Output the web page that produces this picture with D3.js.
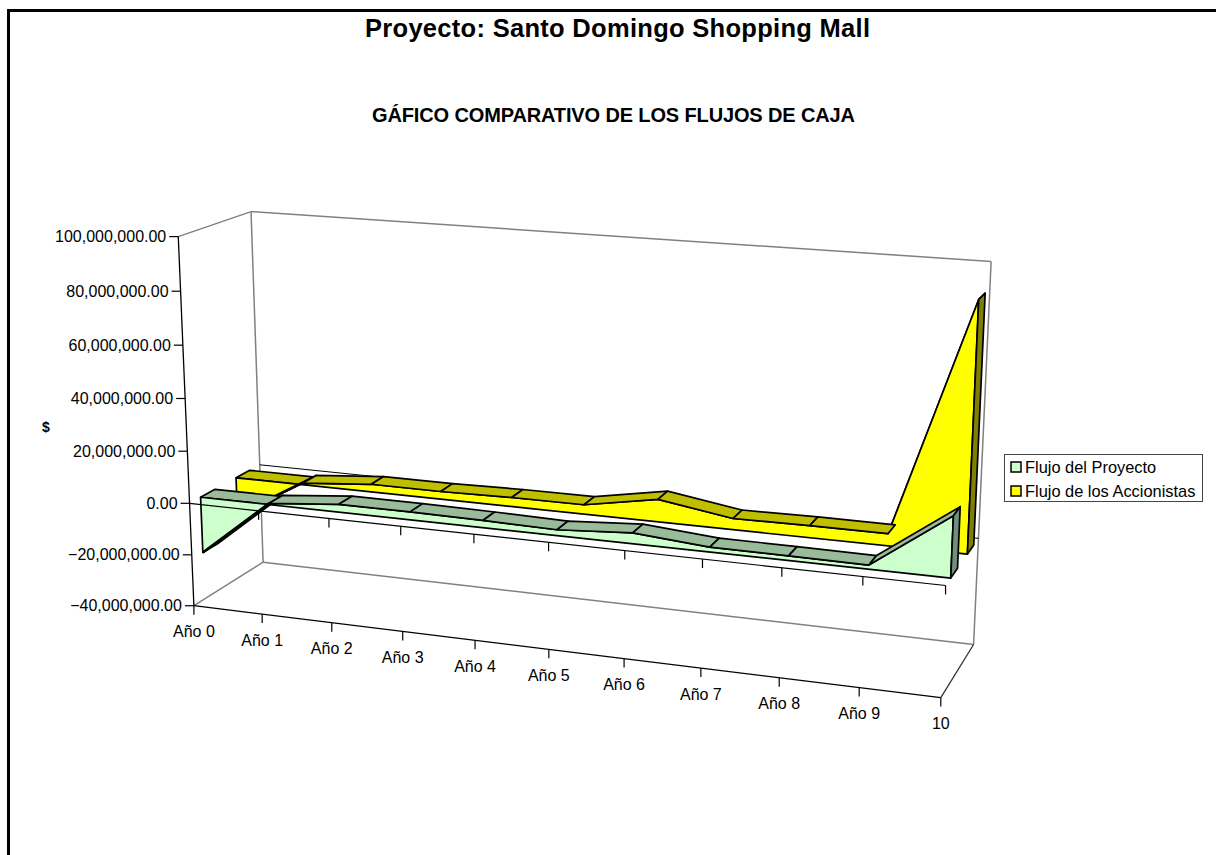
<!DOCTYPE html>
<html><head><meta charset="utf-8">
<script src="https://cdn.jsdelivr.net/npm/d3@7"></script>
<style>html,body{margin:0;padding:0;background:#fff;overflow:hidden}svg{display:block}
text{font-family:"Liberation Sans",Arial,sans-serif;fill:#000}</style></head>
<body><svg id="c" width="1216" height="855"></svg>
<script>
const categories = ["Año 0","Año 1","Año 2","Año 3","Año 4","Año 5","Año 6","Año 7","Año 8","Año 9","10"];
const seriesNames = ["Flujo del Proyecto","Flujo de los Accionistas"];
const proyectoValues = [-21.6e6,0.5e6,3e6,3e6,2.7e6,2.2e6,4e6,1.8e6,1.7e6,1.5e6,22e6];
const accionistasValues = [-15e6,0.7e6,3e6,3e6,3.5e6,3.6e6,8.5e6,4.2e6,4.5e6,4.5e6,90.5e6];
const valueTicks = [-40e6,-20e6,0,20e6,40e6,60e6,80e6,100e6];
const seriesDepths = [[0.15,0.35],[0.65,0.85]];
const seriesFront = ["#CCFFCC","#FFFF00"];
const seriesTop = ["#99BB99","#BFBF00"];
const seriesCap = ["#6F8F7F","#808000"];

const svg = d3.select("#c");
const xS = d3.scalePoint().domain(categories).range([0,1]);
const yS = d3.scaleLinear().domain([-40e6,100e6]).range([0,1]);

// calibration of the oblique 3D view: unit-box corner -> screen
const calib = [
 [0,0,0,193,606],[0,1,0,179,237],[0,0,1,264,562],[0,1,1,250,211],
 [1,0,1,973,645],[1,1,1,991,262],[1,0,0,941,697],[0.5,0,0,548,650],
 [0,2/7,0,190,503],[1,2/7,1,979,538],[0,2/7,1,260,465],[1,2/7,0,946,585]];
function solve(A,b){const n=b.length,M=A.map((r,i)=>[...r,b[i]]);
 for(let i=0;i<n;i++){let p=i;for(let k=i+1;k<n;k++)if(Math.abs(M[k][i])>Math.abs(M[p][i]))p=k;
  [M[i],M[p]]=[M[p],M[i]];
  for(let k=0;k<n;k++)if(k!==i){const f=M[k][i]/M[i][i];for(let j=i;j<=n;j++)M[k][j]-=f*M[i][j];}}
 return M.map((r,i)=>r[n]/r[i]);}
const rows=[],rhs=[];
calib.forEach(([x,y,z,X,Y])=>{
 rows.push([x,y,z,1,0,0,0,0,-X*x,-X*y,-X*z]);rhs.push(X);
 rows.push([0,0,0,0,x,y,z,1,-Y*x,-Y*y,-Y*z]);rhs.push(Y);});
const AtA=d3.range(11).map(i=>d3.range(11).map(j=>d3.sum(rows,r=>r[i]*r[j])));
const Atb=d3.range(11).map(i=>d3.sum(rows,(r,k)=>r[i]*rhs[k]));
const h=solve(AtA,Atb);
function proj(x,y,z){const w=h[8]*x+h[9]*y+h[10]*z+1;
 return [(h[0]*x+h[1]*y+h[2]*z+h[3])/w,(h[4]*x+h[5]*y+h[6]*z+h[7])/w];}
const P=(c,v,z)=>proj(xS(c),yS(v),z);
const poly=pts=>d3.line()(pts)+"Z";
const seg=(a,b,col,w)=>svg.append("line").attr("x1",a[0]).attr("y1",a[1]).attr("x2",b[0]).attr("y2",b[1]).attr("stroke",col).attr("stroke-width",w);

// page frame
svg.append("rect").attr("x",7).attr("y",9).attr("width",3).attr("height",846).attr("fill","#000");
svg.append("rect").attr("x",7).attr("y",9).attr("width",1209).attr("height",3).attr("fill","#000");

// titles
svg.append("text").attr("x",617.5).attr("y",37).attr("text-anchor","middle").attr("textLength",505).attr("lengthAdjust","spacing").style("font-weight","700").style("font-size","25.5px").text("Proyecto: Santo Domingo Shopping Mall");
svg.append("text").attr("x",613.5).attr("y",122).attr("text-anchor","middle").attr("textLength",483).attr("lengthAdjust","spacing").style("font-weight","700").style("font-size","20px").text("GÁFICO COMPARATIVO DE LOS FLUJOS DE CAJA");
svg.append("text").attr("x",46).attr("y",432).attr("text-anchor","middle").style("font-weight","700").style("font-size","14px").text("$");

// walls
const y0=-40e6,y1=100e6,c0=categories[0],c1=categories[10];
const gray="#808080";
seg(P(c0,y1,0),P(c0,y1,1),gray,1.5);
seg(P(c0,y1,1),P(c1,y1,1),gray,1.5);
seg(P(c0,y1,1),P(c0,y0,1),gray,1.5);
seg(P(c1,y1,1),P(c1,y0,1),gray,1.5);
seg(P(c0,y0,0),P(c0,y0,1),gray,1.5);
seg(P(c0,y0,1),P(c1,y0,1),gray,1.5);

// zero-level outline at the back wall
seg(P(c0,0,1),P(c1,0,1),"#000",1);

// series, back to front
[[accionistasValues,1],[proyectoValues,0]].forEach(([vals,s])=>{
 const [zf,zb]=seriesDepths[s];
 const g=svg.append("g").attr("stroke","#000").attr("stroke-width",1.7).attr("stroke-linejoin","round");
 if(vals[0]<0){
  const crossing=xS(categories[0])+(xS(categories[1])-xS(categories[0]))*(0-vals[0])/(vals[1]-vals[0]);
  g.append("path").attr("d",poly([P(c0,0,zf),P(c0,0,zb),proj(crossing,yS(0),zb),proj(crossing,yS(0),zf)])).attr("fill",seriesTop[s]);
 }
 const quads=categories.slice(0,-1).map((c,i)=>{
  const d=categories[i+1];
  const a=P(c,vals[i],zf),b=P(d,vals[i+1],zf),e=P(d,vals[i+1],zb),f=P(c,vals[i],zb);
  // surface turned away from the viewer: hidden behind the front face
  const hi=vals[i+1]>vals[i]?[b,e]:[a,f];
  const cross=(b[0]-a[0])*(hi[1][1]-hi[0][1])-(b[1]-a[1])*(hi[1][0]-hi[0][0]);
  return {pts:[a,b,e,f],hidden:cross>0};
 });
 quads.filter(q=>q.hidden).forEach(q=>g.append("path").attr("d",poly(q.pts)).attr("fill",seriesTop[s]));
 const pts=[P(c0,0,zf),...categories.map((c,i)=>P(c,vals[i],zf)),P(c1,0,zf)];
 g.append("path").attr("d",poly(pts)).attr("fill",seriesFront[s]);
 quads.filter(q=>!q.hidden).forEach(q=>g.append("path").attr("d",poly(q.pts)).attr("fill",seriesTop[s]));
 g.append("path").attr("d",poly([P(c1,0,zf),P(c1,vals[10],zf),P(c1,vals[10],zb),P(c1,0,zb)])).attr("fill",seriesCap[s]);
});
// heavier edge on the rising first span of the front series
seg(P(c0,proyectoValues[0],seriesDepths[0][0]),P(categories[1],proyectoValues[1],seriesDepths[0][0]),"#000",2.6);

// value-zero category axis, in front of the series
seg(P(c0,0,0),P(c1,0,0),"#000",1.2);
categories.slice(1).forEach(c=>{const a=P(c,0,0);seg(a,[a[0],a[1]+9],"#000",1.2);});

// front axes
seg(P(c0,y0,0),P(c0,y1,0),"#000",1.3);
seg(P(c0,y0,0),P(c1,y0,0),"#000",1.3);
seg(P(c1,y0,0),P(c1,y0,1),"#333",1.3);
const fmt=d3.format(",.2f");
valueTicks.forEach(v=>{const a=P(c0,v,0);
 seg([a[0]-9,a[1]],a,"#000",1.2);
 svg.append("text").attr("x",a[0]-12).attr("y",a[1]+5.5).attr("text-anchor","end").style("font-size","16px").text(fmt(v));});
categories.forEach(c=>{const a=P(c,y0,0);
 seg(a,[a[0],a[1]+9],"#000",1.2);
 svg.append("text").attr("x",a[0]).attr("y",a[1]+31.5).attr("text-anchor","middle").style("font-size","16px").text(c);});

// legend
const lg=svg.append("g");
lg.append("rect").attr("x",1004.5).attr("y",454.5).attr("width",198).attr("height",47).attr("fill","#fff").attr("stroke","#444").attr("stroke-width",1);
seriesNames.forEach((n,i)=>{
 const y=460+i*24;
 lg.append("rect").attr("x",1011).attr("y",y+2).attr("width",10).attr("height",10).attr("fill",seriesFront[i]).attr("stroke","#000").attr("stroke-width",1.5);
 lg.append("text").attr("x",1025).attr("y",y+13).style("font-size","16.4px").text(n);
});
</script></body></html>
